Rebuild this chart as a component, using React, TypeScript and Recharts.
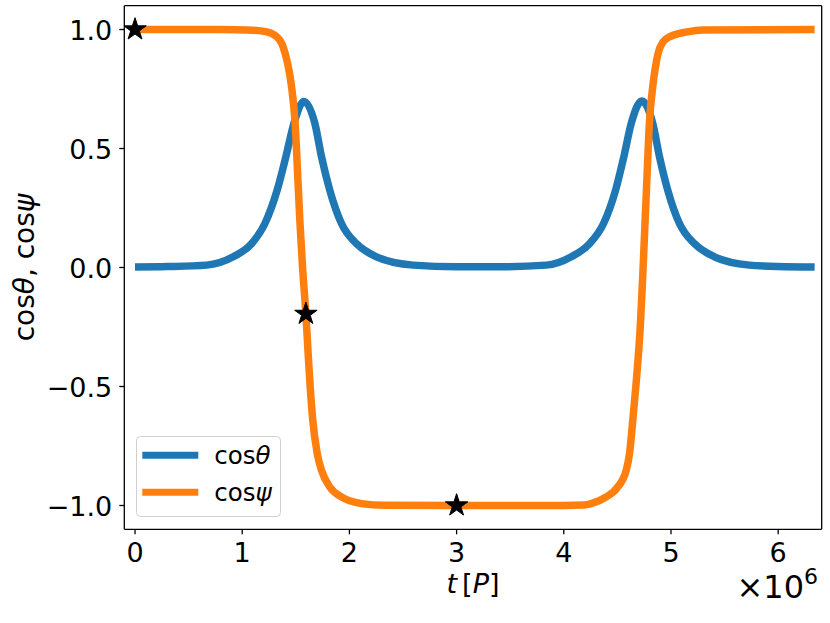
import React from "react";
import {
  ComposedChart,
  Line,
  Scatter,
  XAxis,
  YAxis,
  ReferenceLine,
  Legend,
  Label,
} from "recharts";

// t in units of 10^6 P
const thetaT = [0, 0.3, 0.668, 0.916, 1.087, 1.212, 1.326, 1.407, 1.482, 1.575, 1.678, 1.74, 1.817, 1.926, 2.066, 2.252, 2.594, 3.0, 3.4, 3.837, 4.07, 4.24, 4.371, 4.483, 4.56, 4.629, 4.728, 4.83, 4.893, 4.97, 5.079, 5.219, 5.405, 5.73, 6.0, 6.34];
const thetaV = [0.002, 0.004, 0.01, 0.045, 0.1, 0.185, 0.325, 0.465, 0.605, 0.698, 0.605, 0.465, 0.325, 0.185, 0.1, 0.045, 0.01, 0.003, 0.003, 0.01, 0.045, 0.1, 0.185, 0.325, 0.465, 0.605, 0.7, 0.605, 0.465, 0.325, 0.185, 0.1, 0.045, 0.01, 0.004, 0.002];

const psiT = [0, 0.8, 1.1, 1.23, 1.28, 1.32, 1.37, 1.4, 1.44, 1.46, 1.492, 1.523, 1.538, 1.563, 1.594, 1.615, 1.634, 1.658, 1.7, 1.74, 1.817, 1.926, 2.113, 2.33, 3.0, 4.0, 4.19, 4.256, 4.396, 4.504, 4.582, 4.613, 4.644, 4.672, 4.717, 4.74, 4.772, 4.8, 4.83, 4.88, 4.93, 4.99, 5.15, 5.3, 6.34];
const psiV = [1, 1, 0.997, 0.99, 0.982, 0.97, 0.94, 0.9, 0.82, 0.76, 0.617, 0.337, 0.196, 0, -0.195, -0.36, -0.5, -0.64, -0.782, -0.852, -0.922, -0.964, -0.992, -0.999, -1, -1, -0.998, -0.992, -0.964, -0.922, -0.852, -0.782, -0.64, -0.5, -0.22, 0, 0.337, 0.617, 0.76, 0.9, 0.95, 0.97, 0.99, 0.998, 1];

const starT = [0, 1.594, 3.0];
const starV = [1, -0.195, -1];

const xTicks = [0, 1, 2, 3, 4, 5, 6];
const yTicks = [-1, -0.5, 0, 0.5, 1];
const legendSymbols = ["θ", "ψ"];
const COLORS = ["#1f77b4", "#ff7f0e"];

const zip = (ts: number[], vs: number[]) => ts.map((t, i) => ({ t, v: vs[i] }));
const thetaData = zip(thetaT, thetaV);
const psiData = zip(psiT, psiV);
const starData = zip(starT, starV);

const FONT = "DejaVu Sans";

const fmtY = (v: number) => (v < 0 ? "\u2212" : "") + Math.abs(v).toFixed(1);

const XTick = ({ x, y, payload }: any) => (
  <text x={x} y={y} dy={19.7} textAnchor="middle" fontFamily={FONT} fontSize={27} fill="#000">
    {payload.value}
  </text>
);

const YTick = ({ x, y, payload }: any) => (
  <text x={x} y={y} dy={10.5} textAnchor="end" fontFamily={FONT} fontSize={27} fill="#000">
    {fmtY(payload.value)}
  </text>
);

const StarShape = ({ cx, cy }: any) => {
  const R = 11.8;
  const r = R * 0.382;
  const pts: string[] = [];
  for (let i = 0; i < 10; i++) {
    const a = (Math.PI / 5) * i - Math.PI / 2;
    const rad = i % 2 === 0 ? R : r;
    pts.push(`${cx + rad * Math.cos(a)},${cy + rad * Math.sin(a)}`);
  }
  return <polygon points={pts.join(" ")} fill="#000" stroke="#000" strokeWidth={1} />;
};

const XLabel = ({ viewBox }: any) => {
  const { x, y, width } = viewBox;
  return (
    <g fontFamily={FONT} fill="#000">
      <text x={x + width / 2} y={y + 63.7} textAnchor="middle" fontSize={27}>
        <tspan fontStyle="italic">t</tspan>
        <tspan dx={5}>[</tspan>
        <tspan fontStyle="italic">P</tspan>
        <tspan>]</tspan>
      </text>
      <text x={x + width - 3.7} y={y + 68.7} textAnchor="end" fontSize={32}>
        ×10
        <tspan fontSize={22} dy={-14}>6</tspan>
      </text>
    </g>
  );
};

const YLabel = ({ viewBox }: any) => {
  const { y, height } = viewBox;
  const cx = 34;
  const cy = y + height / 2;
  return (
    <text
      x={cx}
      y={cy}
      transform={`rotate(-90 ${cx} ${cy})`}
      textAnchor="middle"
      fontFamily={FONT}
      fontSize={28}
      fill="#000"
    >
      cos<tspan fontStyle="italic">θ</tspan>, cos<tspan fontStyle="italic">ψ</tspan>
    </text>
  );
};

const renderLegend = () => (
  <svg width={146} height={82} style={{ display: "block" }}>
    <rect x={0.5} y={0.5} width={144} height={80} rx={4} fill="#fff" fillOpacity={0.8} stroke="#d0d0d0" strokeWidth={1} />
    {legendSymbols.map((s, i) => (
      <g key={s}>
        <line x1={6.3} x2={62.3} y1={19.3 + i * 37} y2={19.3 + i * 37} stroke={COLORS[i]} strokeWidth={7} />
        <text x={78.3} y={28.3 + i * 37} fontFamily={FONT} fontSize={24.5} fill="#000">
          cos<tspan fontStyle="italic">{s}</tspan>
        </text>
      </g>
    ))}
  </svg>
);

export default function App() {
  return (
    <div style={{ position: "absolute", left: 0, top: 0, width: 830, height: 623, background: "#fff" }}>
      <ComposedChart width={830} height={623} margin={{ top: 5.7, right: 8.3, bottom: 0, left: 0 }}>
        <XAxis
          type="number"
          dataKey="t"
          domain={[-0.1, 6.406]}
          ticks={xTicks}
          tick={<XTick />}
          tickSize={5}
          tickMargin={8}
          height={93.7}
          axisLine={{ stroke: "#000", strokeWidth: 1.3 }}
          tickLine={{ stroke: "#000", strokeWidth: 1.3 }}
          allowDataOverflow
        >
          <Label content={<XLabel />} />
        </XAxis>
        <YAxis
          type="number"
          dataKey="v"
          domain={[-1.1, 1.1]}
          ticks={yTicks}
          tick={<YTick />}
          tickSize={5}
          tickMargin={7}
          width={124.3}
          axisLine={{ stroke: "#000", strokeWidth: 1.3 }}
          tickLine={{ stroke: "#000", strokeWidth: 1.3 }}
          allowDataOverflow
        >
          <Label content={<YLabel />} />
        </YAxis>
        <ReferenceLine y={1.1} stroke="#000" strokeWidth={1.3} />
        <ReferenceLine x={6.406} stroke="#000" strokeWidth={1.3} />
        <Line
          data={thetaData}
          dataKey="v"
          type="monotone"
          stroke={COLORS[0]}
          strokeWidth={7.5}
          dot={false}
          activeDot={false}
          isAnimationActive={false}
        />
        <Line
          data={psiData}
          dataKey="v"
          type="monotone"
          stroke={COLORS[1]}
          strokeWidth={7.5}
          dot={false}
          activeDot={false}
          isAnimationActive={false}
        />
        <Scatter data={starData} dataKey="v" shape={<StarShape />} isAnimationActive={false} />
        <Legend
          layout="vertical"
          align="center"
          verticalAlign="middle"
          content={renderLegend}
          wrapperStyle={{ left: 136.2, top: 436.2, width: 146, height: 82 }}
        />
      </ComposedChart>
    </div>
  );
}
